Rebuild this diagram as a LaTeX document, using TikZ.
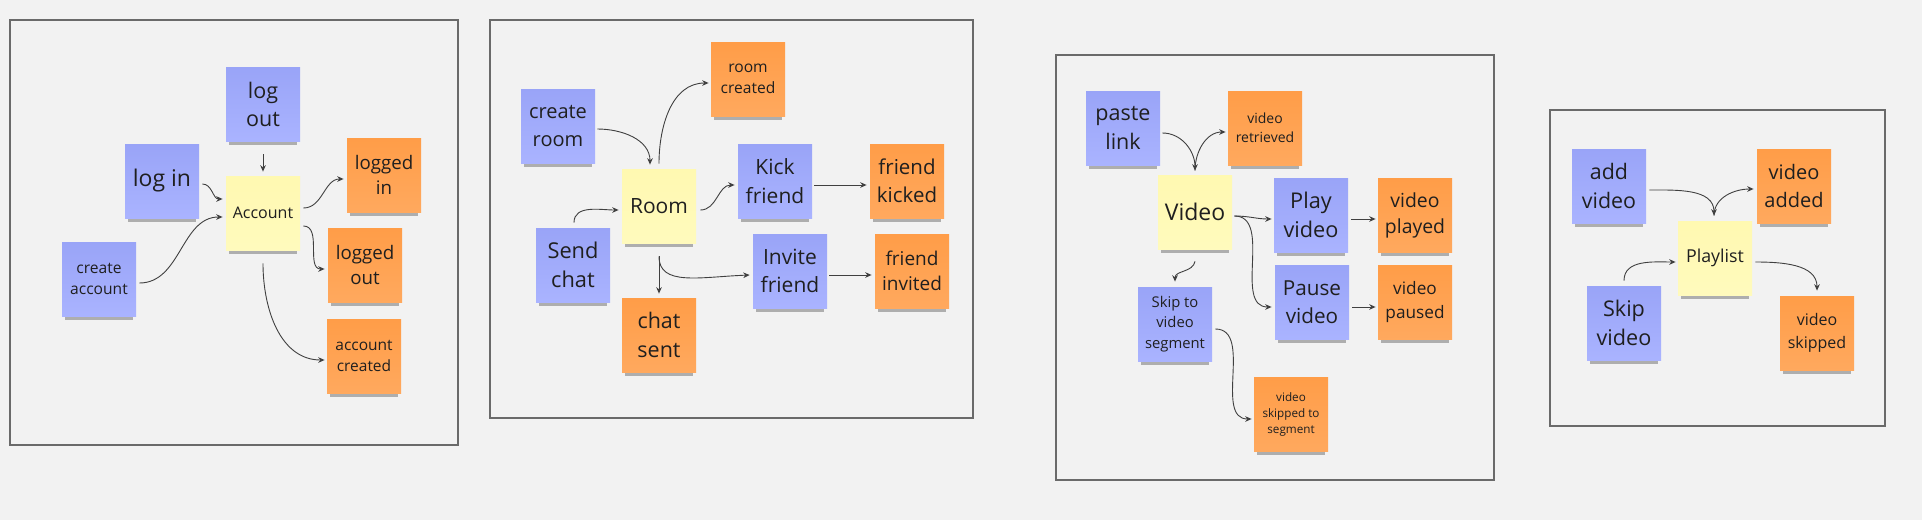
\documentclass[tikz,border=0pt]{standalone}
\usepackage{fontspec}
\setmainfont{Open Sans}
\usetikzlibrary{arrows.meta,shadows}
\definecolor{bg}{HTML}{F2F2F2}
\definecolor{frm}{HTML}{6A6A6A}
\definecolor{stblue}{HTML}{9EA9FF}
\definecolor{styel}{HTML}{FFF9B1}
\definecolor{storg}{HTML}{FF9D48}
\definecolor{txt}{HTML}{1F1F1F}
\definecolor{arrc}{HTML}{404040}
\newcommand\fsz[2]{\fontsize{#1pt}{#2pt}\selectfont}
\tikzset{
  sticky/.style={minimum width=37pt, minimum height=37pt, inner sep=1pt, align=center, text=txt,
    drop shadow={shadow xshift=0pt, shadow yshift=-3.6pt, shadow scale=0.93, opacity=0.28, fill=black}},
  bluest/.style={sticky, top color=stblue!97!black, bottom color=stblue!88!white},
  yelst/.style={sticky, top color=styel, bottom color=styel!85!white},
  orgst/.style={sticky, top color=storg, bottom color=storg!88!white},
  frame/.style={draw=frm, line width=0.6pt},
  arr/.style={draw=arrc, line width=0.45pt, -{Stealth[length=3.2pt,width=2.8pt]}}
}
\begin{document}
\begin{tikzpicture}[x=0.5pt,y=-0.5pt]
\useasboundingbox (0,0) rectangle (1922,520);
\fill[bg] (0,0) rectangle (1922,520);
% frames
\draw[frame] (10,20) rectangle (458,445);
\draw[frame] (490,20) rectangle (973,418);
\draw[frame] (1056,55) rectangle (1494,480);
\draw[frame] (1550,110) rectangle (1885,426);

% ---------- Panel 1
\node[bluest, font=\fsz{10.75}{14}] (logout) at (263,104) {log\\out};
\node[bluest, font=\fsz{11.5}{15}] (login) at (162,181) {log in};
\node[yelst, font=\fsz{8}{11}] (acc) at (263,213) {Account};
\node[orgst, font=\fsz{9.35}{12.6}] (loggedin) at (384,175) {logged\\in};
\node[orgst, font=\fsz{9.35}{12.6}] (loggedout) at (365,265) {logged\\out};
\node[orgst, font=\fsz{7.75}{10.6}] (acccreated) at (364,356) {account\\created};
\node[bluest, font=\fsz{7.8}{10.6}] (createacc) at (99,279) {create\\account};

\draw[arr] ([yshift=-6.5pt]logout.south) -- ([yshift=2pt]acc.north);
\draw[arr] ([xshift=1.5pt,yshift=-1.5pt]login.east) to[out=0,in=180] ([xshift=-1.5pt,yshift=7pt]acc.west);
\draw[arr] ([xshift=1.5pt,yshift=-2pt]createacc.east) to[out=0,in=180] ([xshift=-1.5pt,yshift=-2pt]acc.west);
\draw[arr] ([xshift=1.5pt,yshift=2.5pt]acc.east) to[out=0,in=180] ([xshift=-1.5pt,yshift=-2pt]loggedin.west);
\draw[arr] ([xshift=1.5pt,yshift=-6.5pt]acc.east) to[out=0,in=180] ([xshift=-1.5pt,yshift=-2pt]loggedout.west);
\draw[arr] ([yshift=-6.5pt]acc.south) to[out=-90,in=180] ([xshift=-1pt,yshift=-2pt]acccreated.west);

% ---------- Panel 2
\node[bluest, font=\fsz{10}{13.8}] (createroom) at (558,126) {create\\room};
\node[orgst, font=\fsz{7.8}{10.8}] (roomcreated) at (748,79) {room\\created};
\node[yelst, font=\fsz{10.5}{14}] (room) at (659,206) {Room};
\node[bluest, font=\fsz{10.5}{14.2}] (kick) at (775,181) {Kick\\friend};
\node[orgst, font=\fsz{10.25}{14}] (kicked) at (907,181) {friend\\kicked};
\node[bluest, font=\fsz{10.9}{14.6}] (sendchat) at (573,265) {Send\\chat};
\node[bluest, font=\fsz{10.5}{14}] (invite) at (790,271) {Invite\\friend};
\node[orgst, font=\fsz{9.5}{12.8}] (invited) at (912,271) {friend\\invited};
\node[orgst, font=\fsz{10.75}{14.6}] (chatsent) at (659,335) {chat\\sent};

\draw[arr] ([xshift=1pt,yshift=-1.5pt]createroom.east) to[out=0,in=90] ([xshift=-4.5pt,yshift=2pt]room.north);
\draw[arr] ([yshift=2.5pt]room.north) to[out=90,in=180] ([xshift=-1pt,yshift=-2pt]roomcreated.west);
\draw[arr] ([xshift=0.5pt,yshift=2.5pt]sendchat.north) to[out=90,in=180] ([xshift=-1.5pt,yshift=-2pt]room.west);
\draw[arr] ([xshift=2pt,yshift=-2pt]room.east) to[out=0,in=180] ([xshift=-1.5pt,yshift=-2pt]kick.west);
\draw[arr] ([xshift=1pt,yshift=-2pt]kick.east) -- ([xshift=-1.5pt,yshift=-2pt]kicked.west);
\draw[arr] ([yshift=-6.5pt]room.south) -- ([yshift=2pt]chatsent.north);
\draw[arr] ([yshift=-6.5pt]room.south) .. controls +(0,30) and +(-50,2) .. ([xshift=-1.5pt,yshift=-2pt]invite.west);
\draw[arr] ([xshift=1pt,yshift=-2pt]invite.east) -- ([xshift=-1.5pt,yshift=-2pt]invited.west);

% ---------- Panel 3
\node[bluest, font=\fsz{10.75}{14.6}] (paste) at (1123,128) {paste\\link};
\node[orgst, font=\fsz{7}{9.6}] (retrieved) at (1265,128) {video\\retrieved};
\node[yelst, font=\fsz{11.5}{15}] (video) at (1195,212) {Video};
\node[bluest, font=\fsz{10.85}{14.4}] (play) at (1311,215) {Play\\video};
\node[orgst, font=\fsz{9.7}{13}] (played) at (1415,215) {video\\played};
\node[bluest, font=\fsz{10.35}{14}] (pause) at (1312,302) {Pause\\video};
\node[orgst, font=\fsz{8.6}{11.8}] (paused) at (1415,302) {video\\paused};
\node[bluest, font=\fsz{7.4}{10.3}] (skip) at (1175,324) {Skip to\\video\\segment};
\node[orgst, font=\fsz{5.85}{8}] (skipped) at (1291,414) {video\\skipped to\\segment};

\draw[arr] ([xshift=1pt,yshift=-2.5pt]paste.east) to[out=0,in=90] ([yshift=2pt]video.north);
\draw[arr] ([yshift=2pt]video.north) to[out=90,in=180] ([xshift=-1pt,yshift=-2pt]retrieved.west);
\draw[arr] ([xshift=1pt,yshift=-2pt]video.east) to[out=0,in=180] ([xshift=-1pt,yshift=-2pt]play.west);
\draw[arr] ([xshift=1pt,yshift=-2pt]video.east) to[out=0,in=180] ([xshift=-1.5pt,yshift=-2.5pt]pause.west);
\draw[arr] ([xshift=1.5pt,yshift=-2pt]play.east) -- ([xshift=-1pt,yshift=-2pt]played.west);
\draw[arr] ([xshift=1.5pt,yshift=-2.5pt]pause.east) -- ([xshift=-1pt,yshift=-2.5pt]paused.west);
\draw[arr] ([yshift=-6pt]video.south) to[out=-100,in=90] ([yshift=2.5pt]skip.north);
\draw[arr] ([xshift=1.5pt,yshift=-2.5pt]skip.east) to[out=0,in=180] ([xshift=-1pt,yshift=-2.5pt]skipped.west);

% ---------- Panel 4
\node[bluest, font=\fsz{10.7}{14.2}] (addvideo) at (1609,186) {add\\video};
\node[orgst, font=\fsz{10}{13.6}] (added) at (1794,186) {video\\added};
\node[yelst, font=\fsz{8.9}{12}] (playlist) at (1715,258) {Playlist};
\node[bluest, font=\fsz{10.8}{14.6}] (skipvideo) at (1624,323) {Skip\\video};
\node[orgst, font=\fsz{8}{11.4}] (vskipped) at (1817,333) {video\\skipped};

\draw[arr] ([xshift=1.5pt,yshift=-2pt]addvideo.east) to[out=0,in=90] ([xshift=-0.5pt,yshift=2.5pt]playlist.north);
\draw[arr] ([xshift=-0.5pt,yshift=2.5pt]playlist.north) to[out=90,in=180] ([xshift=-1.5pt,yshift=-1.5pt]added.west);
\draw[arr] ([yshift=2.5pt]skipvideo.north) to[out=90,in=180] ([xshift=-1pt,yshift=-2pt]playlist.west);
\draw[arr] ([xshift=1.5pt,yshift=-2pt]playlist.east) to[out=0,in=90] ([yshift=2.5pt]vskipped.north);
\end{tikzpicture}
\end{document}
